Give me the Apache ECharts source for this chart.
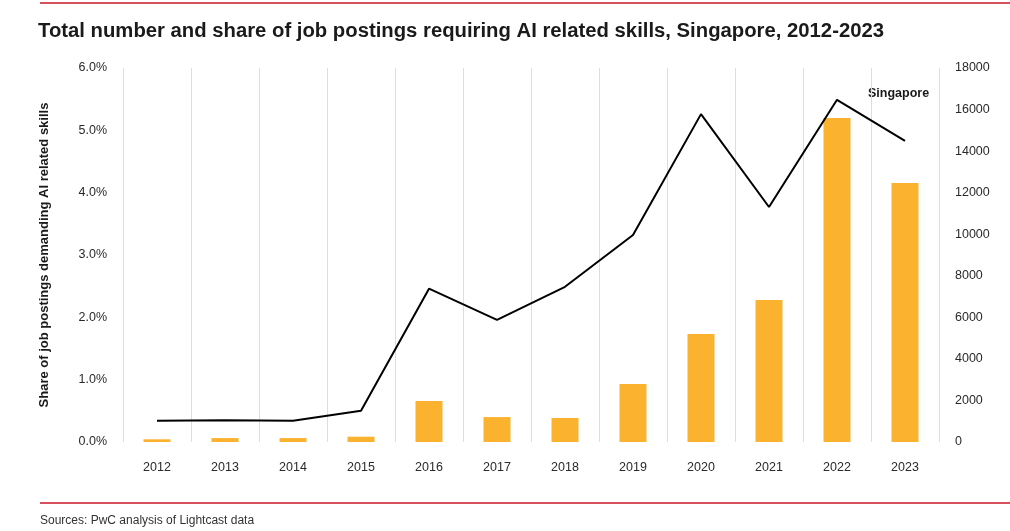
<!DOCTYPE html>
<html>
<head>
<meta charset="utf-8">
<script src="https://cdn.jsdelivr.net/npm/echarts@6/dist/echarts.min.js"></script>
<style>
  html, body { margin: 0; padding: 0; background: #fff; }
  #chart { width: 1010px; height: 531px; }
</style>
</head>
<body>
<div id="chart"></div>
<script>
// data
const years = ['2012', '2013', '2014', '2015', '2016', '2017', '2018', '2019', '2020', '2021', '2022', '2023'];
// share of job postings (%), left axis
const sharePct = [0.34, 0.35, 0.34, 0.50, 2.46, 1.96, 2.49, 3.32, 5.26, 3.77, 5.49, 4.83];
// total number of postings, right axis
const postings = [130, 190, 190, 255, 1970, 1200, 1155, 2790, 5200, 6830, 15590, 12460];

const chart = echarts.init(document.getElementById('chart'));

const font = 'Liberation Sans, Arial, sans-serif';

chart.setOption({
  animation: false,
  textStyle: { fontFamily: font },
  title: {
    text: 'Total number and share of job postings requiring AI related skills, Singapore, 2012-2023',
    left: 33,
    top: 16,
    textStyle: { fontSize: 20.3, fontWeight: 'bold', color: '#1a1a1a', fontFamily: font }
  },
  grid: { left: 123, right: 71, top: 68, bottom: 89 },
  xAxis: {
    type: 'category',
    data: years,
    axisLine: { show: false },
    axisTick: { show: false },
    axisLabel: { color: '#2a2a2a', fontSize: 12.5, margin: 19 },
    splitLine: { show: true, lineStyle: { color: '#dddddd', width: 1 } }
  },
  yAxis: [
    {
      type: 'value',
      min: 0,
      max: 6,
      interval: 1,
      name: 'Share of job postings demanding AI related skills',
      nameLocation: 'middle',
      nameGap: 72,
      nameTextStyle: { fontSize: 13, fontWeight: 'bold', color: '#1a1a1a' },
      axisLine: { show: false },
      axisTick: { show: false },
      splitLine: { show: false },
      axisLabel: {
        color: '#2a2a2a', fontSize: 12.5, margin: 16,
        formatter: v => v.toFixed(1) + '%'
      }
    },
    {
      type: 'value',
      min: 0,
      max: 18000,
      interval: 2000,
      position: 'right',
      axisLine: { show: false },
      axisTick: { show: false },
      splitLine: { show: false },
      axisLabel: { color: '#2a2a2a', fontSize: 12.5, margin: 16, formatter: v => String(v) }
    }
  ],
  series: [
    {
      name: 'Postings',
      type: 'bar',
      yAxisIndex: 1,
      data: postings,
      barWidth: 27,
      itemStyle: { color: '#FBB32F' }
    },
    {
      name: 'Singapore',
      type: 'line',
      yAxisIndex: 0,
      data: sharePct,
      symbol: 'none',
      lineStyle: { color: '#000', width: 2 },
      z: 5
    }
  ],
  graphic: [
    { type: 'rect', shape: { x: 40, y: 2, width: 970, height: 2 }, style: { fill: '#D9505E' } },
    { type: 'rect', shape: { x: 40, y: 502, width: 970, height: 2 }, style: { fill: '#D9505E' } },
    {
      type: 'text', left: 868, top: 87,
      style: { text: 'Singapore', font: 'bold 12.5px ' + font, fill: '#1a1a1a' }
    },
    {
      type: 'text', left: 40, top: 515,
      style: { text: 'Sources: PwC analysis of Lightcast data', font: '12px ' + font, fill: '#333' }
    }
  ]
});
</script>
</body>
</html>
